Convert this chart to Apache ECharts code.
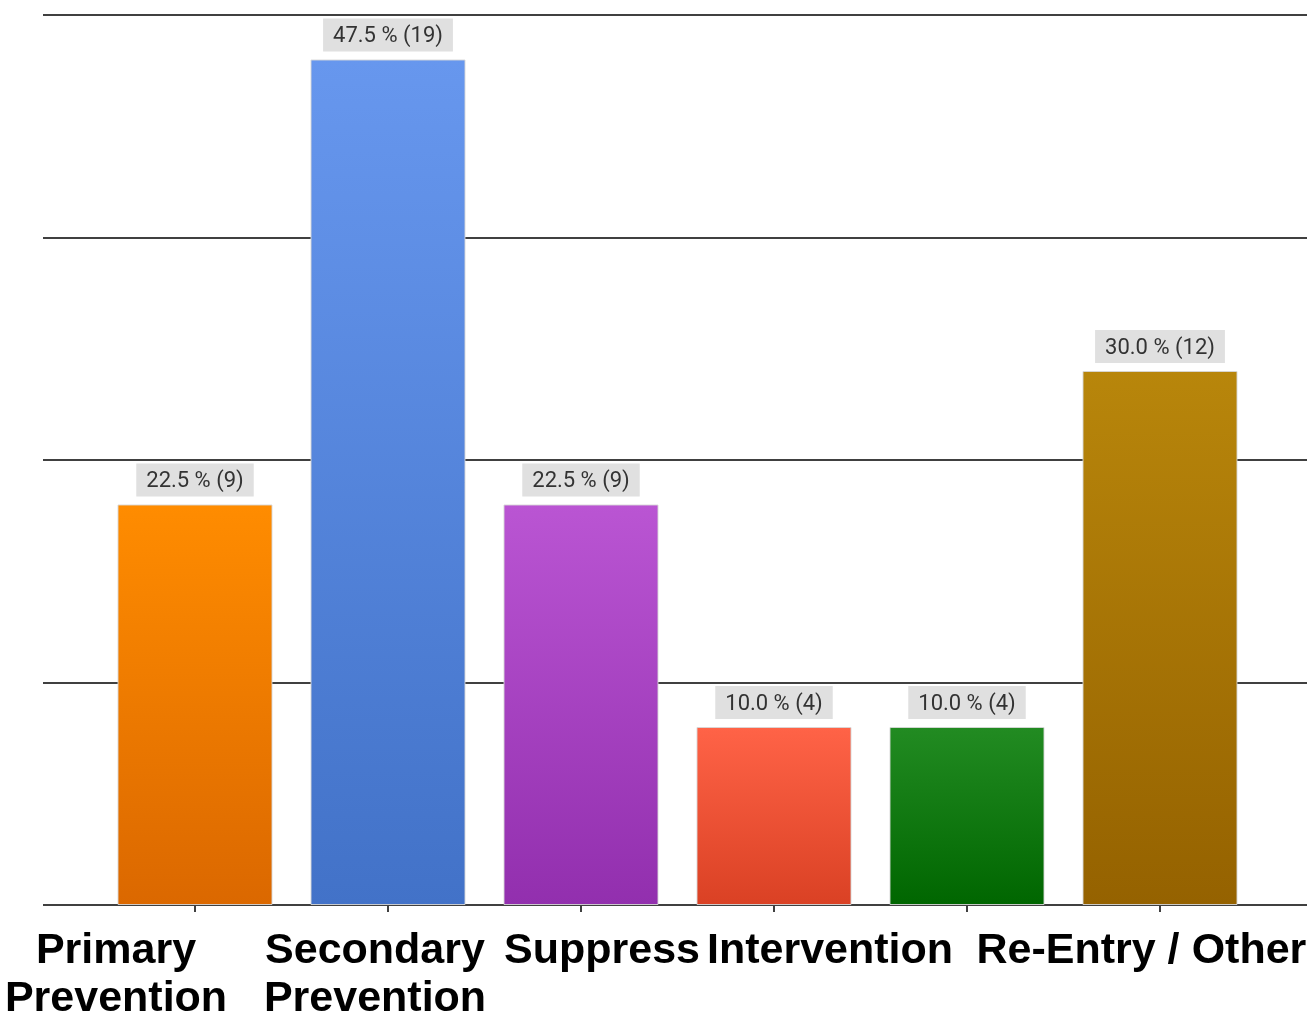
<!DOCTYPE html>
<html>
<head>
<meta charset="utf-8">
<script src="https://cdn.jsdelivr.net/npm/echarts@6/dist/echarts.min.js"></script>
<style>
html,body{margin:0;padding:0;background:#fff;}
#chart{width:1311px;height:1019px;}
</style>
</head>
<body>
<div id="chart"></div>
<script>
// ---- data ----
var categories = ['Primary\nPrevention', 'Secondary\nPrevention', 'Suppress', 'Intervention', 'Re-Entry /', 'Other'];
var counts = [9, 19, 9, 4, 4, 12];
var percents = [22.5, 47.5, 22.5, 10.0, 10.0, 30.0];
var yTicks = [0, 5, 10, 15, 20];

// ---- styles (not data) ----
var gradients = [
  ['#FF8C00', '#DB6800'],
  ['#6797EE', '#4272C8'],
  ['#BA55D3', '#922FAE'],
  ['#FF6347', '#DA4124'],
  ['#228B22', '#006600'],
  ['#B8860B', '#956200']
];
var labelShift = [-79, -13, 21, 56, 111, 89];

var axisData = categories.map(function (c, i) {
  var s = labelShift[i];
  var pad = s < 0 ? [0, -2 * s, 0, 0] : [0, 0, 0, 2 * s];
  return { value: c, textStyle: { padding: pad } };
});

var seriesData = counts.map(function (v, i) {
  return {
    value: v,
    itemStyle: {
      color: {
        type: 'linear', x: 0, y: 0, x2: 0, y2: 1,
        colorStops: [
          { offset: 0, color: gradients[i][0] },
          { offset: 1, color: gradients[i][1] }
        ]
      }
    }
  };
});

var chart = echarts.init(document.getElementById('chart'));
chart.setOption({
  animation: false,
  backgroundColor: '#ffffff',
  grid: [
    { left: 43, right: 4, top: 15, bottom: 114, outerBoundsMode: 'none', containLabel: false },
    { left: 98.5, right: 54.5, top: 15, bottom: 114, outerBoundsMode: 'none', containLabel: false }
  ],
  xAxis: [
    { gridIndex: 0, type: 'value', show: false, min: 0, max: 1 },
    {
      gridIndex: 1, type: 'category', data: axisData,
      axisLine: { show: false },
      axisTick: { show: true, alignWithLabel: true, length: 7, lineStyle: { color: '#404040', width: 2 } },
      axisLabel: {
        interval: 0, margin: 22, color: '#000',
        fontFamily: 'Liberation Sans, Arial, sans-serif',
        fontWeight: 'bold', fontSize: 43, lineHeight: 48
      },
      splitLine: { show: false }
    }
  ],
  yAxis: [
    {
      gridIndex: 0, type: 'value', min: yTicks[0], max: yTicks[yTicks.length - 1], interval: yTicks[1] - yTicks[0],
      axisLine: { show: false }, axisTick: { show: false }, axisLabel: { show: false },
      splitLine: { show: true, lineStyle: { color: '#404040', width: 2 } }
    },
    {
      gridIndex: 1, type: 'value', min: yTicks[0], max: yTicks[yTicks.length - 1], interval: yTicks[1] - yTicks[0],
      show: false, splitLine: { show: false }
    }
  ],
  series: [{
    type: 'bar',
    xAxisIndex: 1, yAxisIndex: 1,
    data: seriesData,
    barWidth: 155,
    itemStyle: { borderColor: 'rgba(215,215,215,0.9)', borderWidth: 1 },
    label: {
      show: true, position: 'top', distance: 8,
      formatter: function (p) { return percents[p.dataIndex].toFixed(1) + ' % (' + counts[p.dataIndex] + ')'; },
      fontFamily: 'Roboto, sans-serif', fontSize: 22, lineHeight: 24, color: '#333',
      backgroundColor: '#E0E0E0', padding: [6, 10, 3, 10]
    }
  }]
});
</script>
</body>
</html>
